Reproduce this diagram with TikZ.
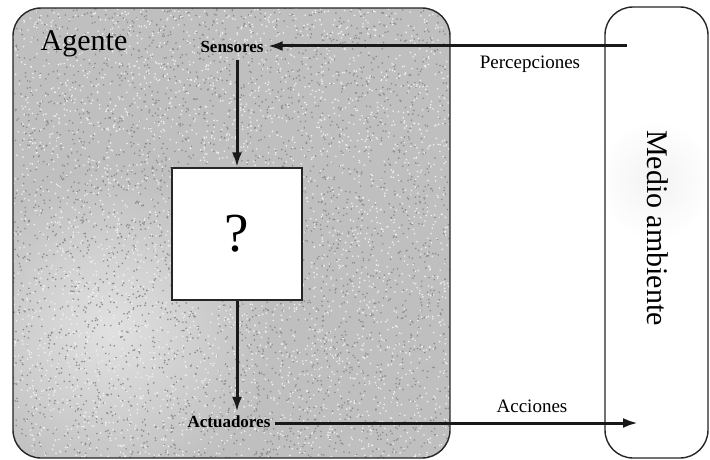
\documentclass[tikz,border=0pt]{standalone}
\usepackage{fontspec}
\setmainfont{Liberation Serif}
\usetikzlibrary{arrows.meta}
\begin{document}
\begin{tikzpicture}[x=1pt,y=-1pt,
  frame/.style={draw=black!85,line width=1.4pt,rounded corners=28pt},
  flow/.style={line width=3pt,black!90,-{Latex[length=15pt,width=10pt]}},
  label/.style={font=\fontsize{19}{21}\selectfont,inner sep=1pt},
  sensorlabel/.style={font=\bfseries\fontsize{17}{20}\selectfont,inner sep=4pt}]
\useasboundingbox (0,0) rectangle (710,460);
\fill[white] (0,0) rectangle (710,460);

% agent panel: grey, grainy fill
\begin{scope}
  \clip[rounded corners=28pt] (13,8) rectangle (450,458);
  \fill[black!25] (13,8) rectangle (450,458);
  \shade[inner color=black!12,outer color=black!25] (110,330) circle (160);
  \pgfmathsetseed{7}
  \foreach \i in {1,...,3500}{
    \pgfmathsetmacro{\px}{13+437*rnd}
    \pgfmathsetmacro{\py}{8+450*rnd}
    \fill[black!45] (\px,\py) circle (0.9);
  }
  \foreach \i in {1,...,3500}{
    \pgfmathsetmacro{\px}{13+437*rnd}
    \pgfmathsetmacro{\py}{8+450*rnd}
    \fill[black!6] (\px,\py) circle (0.9);
  }
\end{scope}
\draw[frame] (13,8) rectangle (450,458);

% environment panel
\begin{scope}
  \clip[rounded corners=28pt] (605,7) rectangle (708,458);
  \shade[inner color=black!5,outer color=white] (655,180) circle (60);
\end{scope}
\draw[frame] (605,7) rectangle (708,458);

% labels and the unknown agent function
\node[font=\fontsize{30}{32}\selectfont,inner sep=0pt] (agente) at (84,44) {Agente};
\node[sensorlabel] (sens) at (232,47) {Sensores};
\node[sensorlabel] (act) at (229,422) {Actuadores};
\node[draw=black!85,line width=1.4pt,fill=white,minimum width=130pt,minimum height=132pt,
      font=\fontsize{55}{58}\selectfont] (fn) at (237,234) {?};
\node[label] (perc) at (530,64) {Percepciones};
\node[label] (acc) at (532,406) {Acciones};
\node[font=\fontsize{30}{32}\selectfont,rotate=-90,inner sep=0pt] (medio) at (658,228) {Medio ambiente};

\coordinate (envin) at (627,46);
\coordinate (envout) at (638,423);

% connectors
\draw[flow] (envin) -- (sens.east |- envin);
\draw[flow] (sens.south -| fn.north) ++(0,3) -- (fn.north);
\draw[flow] (fn.south) -- (fn.south |- act.north);
\draw[flow] (act.east |- envout) -- (envout);
\end{tikzpicture}
\end{document}
